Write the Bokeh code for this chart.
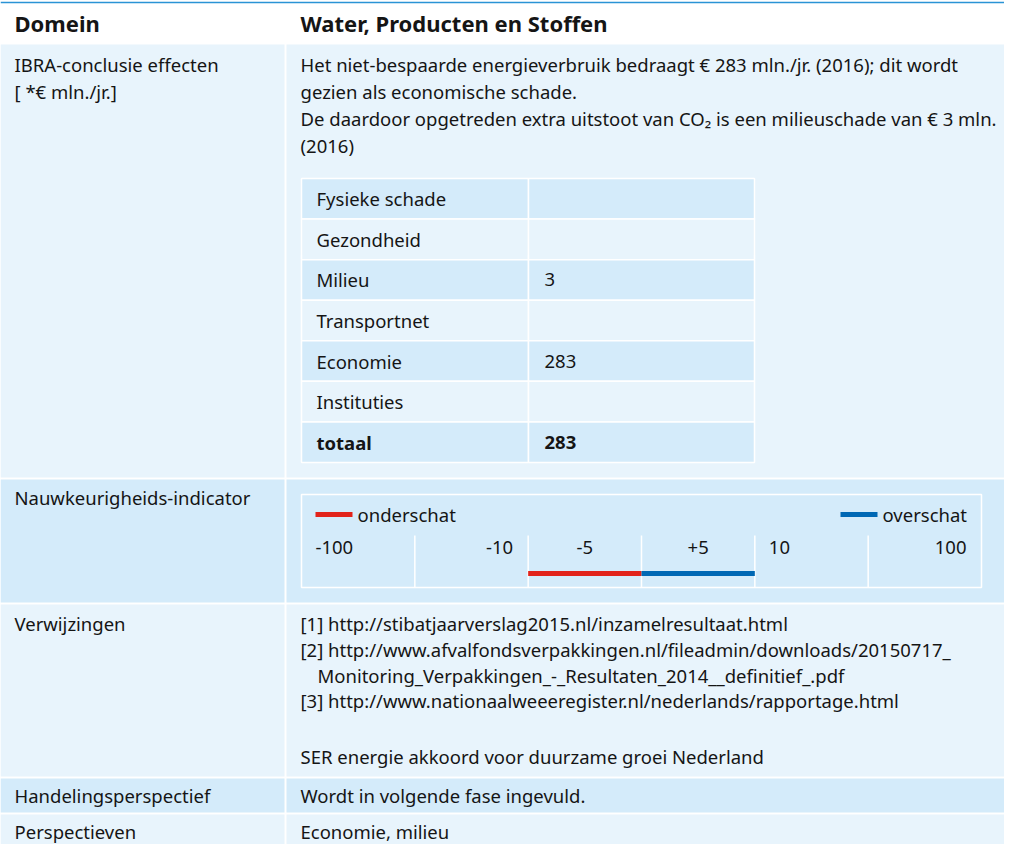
from bokeh.plotting import figure
from bokeh.models import Range1d, ColumnDataSource
from bokeh.core.properties import value
from bokeh.embed import file_html
from bokeh.resources import INLINE

# ---------------- data ----------------
header_left = "Domein"
header_right = "Water, Producten en Stoffen"
row_labels = ["IBRA-conclusie effecten", "Nauwkeurigheids-indicator", "Verwijzingen",
              "Handelingsperspectief", "Perspectieven"]
ibra_unit = "[ *€ mln./jr.]"
ibra_text = [
    "Het niet-bespaarde energieverbruik bedraagt € 283 mln./jr. (2016); dit wordt",
    "gezien als economische schade.",
    "De daardoor opgetreden extra uitstoot van CO₂ is een milieuschade van € 3 mln.",
    "(2016)",
]
effect_categories = ["Fysieke schade", "Gezondheid", "Milieu", "Transportnet",
                     "Economie", "Instituties", "totaal"]
effect_values = ["", "", "3", "", "283", "", "283"]
indicator_labels = ["-100", "-10", "-5", "+5", "10", "100"]
underestimate_segments = ["-5"]
overestimate_segments = ["+5"]
legend_labels = ["onderschat", "overschat"]
references = [
    "[1] http://stibatjaarverslag2015.nl/inzamelresultaat.html",
    "[2] http://www.afvalfondsverpakkingen.nl/fileadmin/downloads/20150717_",
    "    Monitoring_Verpakkingen_-_Resultaten_2014__definitief_.pdf",
    "[3] http://www.nationaalweeeregister.nl/nederlands/rapportage.html",
    "",
    "SER energie akkoord voor duurzame groei Nederland",
]
handelings_text = "Wordt in volgende fase ingevuld."
perspectieven_text = "Economie, milieu"

# ---------------- style ----------------
FONT = value("Noto Sans")
FS = "18.5px"
HFS = "22px"
TXT = "#151515"
LIGHT = "#e8f4fc"
DARK = "#d4ebfa"
RED = "#e2231a"
BLUE = "#0068b4"
TOPLINE = "#2a93d5"

W, H = 1004, 844
p = figure(width=W, height=H, x_range=Range1d(0, W), y_range=Range1d(H, 0),
           output_backend="svg", toolbar_location=None, min_border=0)
p.axis.visible = False
p.grid.visible = False
p.outline_line_color = None
p.background_fill_color = "white"
p.border_fill_color = "white"

def txt(xs, ys, texts, align="left", bold=False, size=FS, color=TXT):
    src = ColumnDataSource(dict(x=xs, y=ys, t=texts))
    p.text(x="x", y="y", text="t", source=src, text_font=FONT, text_font_size=size,
           text_align=align, text_baseline="middle", text_color=color,
           text_font_style="bold" if bold else "normal")

# top line and header
p.segment(x0=[0], y0=[2], x1=[W], y1=[2], line_color=TOPLINE, line_width=1.5)
LX, RX = 14, 300
txt([LX], [22], [header_left], bold=True, size=HFS)
txt([RX], [22], [header_right], bold=True, size=HFS)

# rows
row_bounds = [(44, 477), (479, 602), (604, 776), (778, 812), (814, 844)]
row_fill = [LIGHT, DARK, LIGHT, DARK, LIGHT]
SPLIT = 285
lq = dict(left=[], right=[], top=[], bottom=[], c=[])
for (t, b), c in zip(row_bounds, row_fill):
    for l, r in [(0, SPLIT - 1), (SPLIT + 1, W)]:
        lq["left"].append(l); lq["right"].append(r)
        lq["top"].append(t); lq["bottom"].append(b); lq["c"].append(c)
p.quad(left="left", right="right", top="top", bottom="bottom", fill_color="c",
       line_color=None, source=ColumnDataSource(lq))

# left column labels
label_y = [64, 497, 623, 795, 831]
txt([LX] * len(row_labels), label_y, row_labels)
txt([LX], [91], [ibra_unit])

# IBRA text
LH = 27
txt([RX] * len(ibra_text), [64 + i * LH for i in range(len(ibra_text))], ibra_text)

# inner effects table
tx0, tx1, tsplit, ty0 = 301, 754, 528, 178
rh = (462 - ty0) / len(effect_categories)
eq = dict(left=[], right=[], top=[], bottom=[], c=[])
for i, _ in enumerate(effect_categories):
    c = DARK if i % 2 == 0 else LIGHT
    for l, r in [(tx0, tsplit), (tsplit, tx1)]:
        eq["left"].append(l); eq["right"].append(r)
        eq["top"].append(ty0 + i * rh); eq["bottom"].append(ty0 + (i + 1) * rh)
        eq["c"].append(c)
p.quad(left="left", right="right", top="top", bottom="bottom", fill_color="c",
       line_color="white", line_width=1.5, source=ColumnDataSource(eq))
cy = [ty0 + (i + 0.5) * rh for i in range(len(effect_categories))]
n = len(effect_categories)
txt([tx0 + 15] * (n - 1), cy[:-1], effect_categories[:-1])
txt([tsplit + 16] * (n - 1), cy[:-1], effect_values[:-1])
txt([tx0 + 15], [cy[-1]], [effect_categories[-1]], bold=True)
txt([tsplit + 16], [cy[-1]], [effect_values[-1]], bold=True)

# accuracy indicator
bx0, bx1, by0, by1 = 301, 981, 494, 587
nseg = len(indicator_labels)
sw = (bx1 - bx0) / nseg
p.quad(left=[bx0], right=[bx1], top=[by0], bottom=[by1], fill_color=None,
       line_color="white", line_width=1.5)
p.segment(x0=[bx0 + k * sw for k in range(1, nseg)], y0=[535] * (nseg - 1),
          x1=[bx0 + k * sw for k in range(1, nseg)], y1=[by1] * (nseg - 1),
          line_color="white", line_width=1.5)
aligns = ["left", "right", "center", "center", "left", "right"]
for i, (lab, a) in enumerate(zip(indicator_labels, aligns)):
    s0 = bx0 + i * sw
    x = s0 + 14 if a == "left" else (s0 + sw - 15 if a == "right" else s0 + sw / 2)
    txt([x], [547], [lab], align=a)
for segs, col in [(underestimate_segments, RED), (overestimate_segments, BLUE)]:
    idx = [indicator_labels.index(s) for s in segs]
    p.segment(x0=[bx0 + i * sw for i in idx], y0=[573] * len(idx),
              x1=[bx0 + (i + 1) * sw for i in idx], y1=[573] * len(idx),
              line_color=col, line_width=5)
# legend
p.segment(x0=[bx0 + 14], y0=[514], x1=[bx0 + 51], y1=[514], line_color=RED, line_width=5)
txt([bx0 + 56], [514], [legend_labels[0]])
p.segment(x0=[bx1 - 141], y0=[514], x1=[bx1 - 104], y1=[514], line_color=BLUE, line_width=5)
txt([bx1 - 99], [514], [legend_labels[1]])

# references
ref_y = [623, 649, 675, 700, 728, 756]
ref_x = [RX + (17 if r.startswith("    ") else 0) for r in references]
txt(ref_x, ref_y, [r.strip() for r in references])

txt([RX], [795], [handelings_text])
txt([RX], [831], [perspectieven_text])

open("out.html", "w").write(file_html(p, INLINE))
